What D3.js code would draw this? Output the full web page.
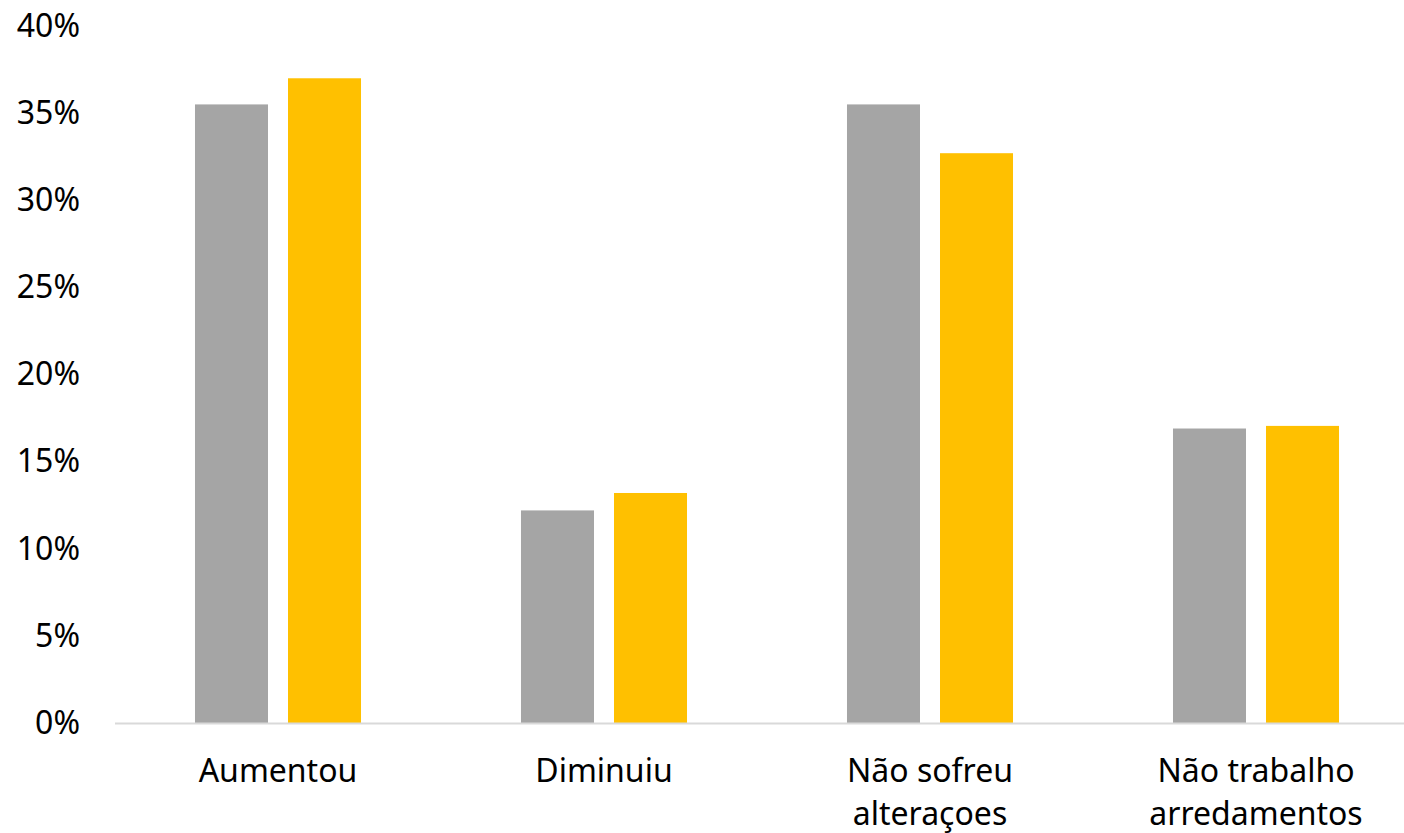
<!DOCTYPE html>
<html>
<head>
<meta charset="utf-8">
<script src="https://cdn.jsdelivr.net/npm/d3@7"></script>
<style>
  html, body { margin: 0; padding: 0; background: #fff; }
  svg { display: block; font-family: "Noto Sans", "Open Sans", sans-serif; }
</style>
</head>
<body>
<div id="chart"></div>
<script>
const categories = [["Aumentou"], ["Diminuiu"], ["Não sofreu", "alteraçoes"], ["Não trabalho", "arredamentos"]]
const series = ["s1", "s2"]
const seriesA = [35.5, 12.2, 35.5, 16.9]
const seriesB = [37.0, 13.2, 32.7, 17.05]
const yTicks = [0, 5, 10, 15, 20, 25, 30, 35, 40]
const colors = ["#a5a5a5", "#ffc000"]

const width = 1404, height = 833

const svg = d3.select("#chart").append("svg")
  .attr("width", width).attr("height", height)

const x0 = d3.scaleBand().domain(d3.range(categories.length)).range([115, 1419]).padding(0)
const x1 = d3.scaleBand().domain(series).range([0, x0.bandwidth()])
  .paddingInner(0.215).paddingOuter(0.86)
const y = d3.scaleLinear().domain([0, 40]).range([723, 26])

const rows = categories.map((c, i) => ({i, values: [seriesA[i], seriesB[i]]}))

// bars
svg.append("g").selectAll("g").data(rows).join("g")
  .attr("transform", d => `translate(${x0(d.i)},0)`)
  .selectAll("rect").data(d => d.values.map((v, k) => ({k, v})))
  .join("rect")
    .attr("x", d => x1(series[d.k]))
    .attr("width", x1.bandwidth())
    .attr("y", d => y(d.v))
    .attr("height", d => y(0) - y(d.v))
    .attr("fill", d => colors[d.k])

// baseline
svg.append("line")
  .attr("x1", x0.range()[0]).attr("x2", x0.range()[1])
  .attr("y1", y(0) + 0.5).attr("y2", y(0) + 0.5)
  .attr("stroke", "#d9d9d9").attr("stroke-width", 2)

// y labels
const yAxis = d3.axisLeft(y).tickValues(yTicks).tickFormat(d => d + "%").tickSize(0).tickPadding(0)
const ya = svg.append("g").attr("transform", "translate(80,0)").call(yAxis)
ya.select(".domain").remove()
ya.selectAll("text").attr("font-size", 32).attr("fill", "#000")
  .attr("font-family", "'Noto Sans', 'Open Sans', sans-serif")

// category labels
const cat = svg.append("g").selectAll("text").data(rows).join("text")
  .attr("x", d => x0(d.i) + x0.bandwidth() / 2)
  .attr("text-anchor", "middle")
  .attr("font-size", 32).attr("fill", "#000")
cat.selectAll("tspan").data(d => categories[d.i].map((t, j) => ({t, j, cx: x0(d.i) + x0.bandwidth() / 2})))
  .join("tspan")
    .attr("x", d => d.cx)
    .attr("y", d => 782 + d.j * 43)
    .text(d => d.t)
</script>
</body>
</html>
